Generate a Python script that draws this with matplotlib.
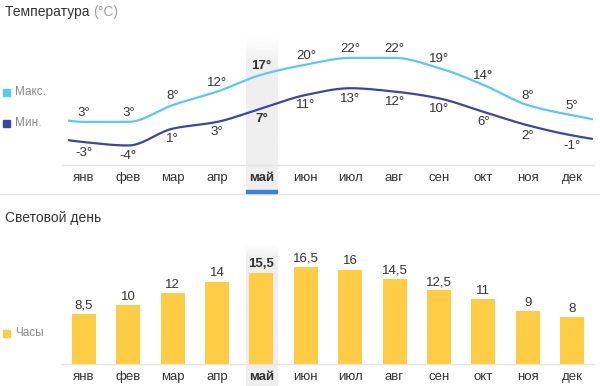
import numpy as np
import matplotlib
matplotlib.use("Agg")
import matplotlib.pyplot as plt
from matplotlib.patches import Rectangle

plt.rcParams['font.family'] = ['Liberation Sans', 'DejaVu Sans']

months = ["янв", "фев", "мар", "апр", "май", "июн", "июл", "авг", "сен", "окт", "ноя", "дек"]
t_max = [3, 3, 8, 12, 17, 20, 22, 22, 19, 14, 8, 5]
t_min = [-3, -4, 1, 3, 7, 11, 13, 12, 10, 6, 2, -1]
daylight = [8.5, 10, 12, 14, 15.5, 16.5, 16, 14.5, 12.5, 11, 9, 8]
highlight = 4  # май

C_MAX = "#5ac8f5"
C_MIN = "#3d44a6"
C_BAR = "#ffcd45"
C_TXT = "#333333"
C_LEG = "#8a8a8a"
C_LINE = "#e4e4e4"
C_BAND = "#efefef"
C_UL = "#3b80d9"

W, H = 600, 386
fig = plt.figure(figsize=(W / 100, H / 100), dpi=100)

def fr(left, top, right, bottom):
    return [left / W, 1 - bottom / H, (right - left) / W, (bottom - top) / H]

bg = fig.add_axes([0, 0, 1, 1])
bg.set_xlim(0, W)
bg.set_ylim(H, 0)
bg.axis("off")
bg.set_zorder(0)

ax1 = fig.add_axes(fr(61.8, 35, 594.2, 165))
ax2 = fig.add_axes(fr(61.8, 245, 594.2, 364))
for ax in (ax1, ax2):
    ax.set_zorder(1)
    ax.patch.set_visible(False)
    ax.set_xlim(-0.5, 11.5)
    for s in ("top", "left", "right"):
        ax.spines[s].set_visible(False)
    ax.spines["bottom"].set_color(C_LINE)
    ax.spines["bottom"].set_linewidth(1)
    ax.set_yticks([])
    ax.set_xticks(range(12))
    ax.set_xticklabels(months, fontsize=9.5, color=C_TXT)
    ax.tick_params(axis="x", length=0, pad=5)
    ax.get_xticklabels()[highlight].set_fontweight("bold")

ax1.set_ylim(-9.8, 28.8)
ax2.set_ylim(0, 20.2)

# monotone cubic (cyclic) curve
def pchip(x, y, xs):
    x = np.asarray(x, float); y = np.asarray(y, float)
    h = np.diff(x); delta = np.diff(y) / h
    n = len(x)
    d = np.zeros(n)
    d[0] = delta[0]; d[-1] = delta[-1]
    for k in range(1, n - 1):
        if delta[k - 1] * delta[k] <= 0:
            d[k] = 0
        else:
            w1 = 2 * h[k] + h[k - 1]; w2 = h[k] + 2 * h[k - 1]
            d[k] = (w1 + w2) / (w1 / delta[k - 1] + w2 / delta[k])
    idx = np.clip(np.searchsorted(x, xs) - 1, 0, n - 2)
    t = (xs - x[idx]) / h[idx]
    h00 = 2 * t**3 - 3 * t**2 + 1
    h10 = t**3 - 2 * t**2 + t
    h01 = -2 * t**3 + 3 * t**2
    h11 = t**3 - t**2
    return h00 * y[idx] + h10 * h[idx] * d[idx] + h01 * y[idx + 1] + h11 * h[idx] * d[idx + 1]

xi = np.arange(12)
xs = np.linspace(-0.36, 11.47, 400)
for vals, col in ((t_max, C_MAX), (t_min, C_MIN)):
    xx = np.concatenate([[-2, -1], xi, [12, 13]])
    yy = np.concatenate([vals[-2:], vals, vals[:2]])
    ax1.plot(xs, pchip(xx, yy, xs), color=col, lw=1.6, solid_capstyle="butt", zorder=3)

for i in range(12):
    fw = "bold" if i == highlight else "normal"
    ax1.annotate(f"{t_max[i]}°", (i, t_max[i]), xytext=(0, 6.5), textcoords="offset points",
                 ha="center", va="center", fontsize=9.5, color=C_TXT, fontweight=fw)
    ax1.annotate(f"{t_min[i]}°", (i, t_min[i]), xytext=(0, -7.5), textcoords="offset points",
                 ha="center", va="center", fontsize=9.5, color=C_TXT, fontweight=fw)

ax2.bar(xi, daylight, width=0.54, color=C_BAR, zorder=3)
for i in range(12):
    fw = "bold" if i == highlight else "normal"
    lab = f"{daylight[i]:g}".replace(".", ",")
    ax2.annotate(lab, (i, daylight[i]), xytext=(0, 6), textcoords="offset points",
                 ha="center", va="center", fontsize=9.5, color=C_TXT, fontweight=fw)

# highlight bands (background)
fig.canvas.draw()
def px(ax, xv):
    return ax.transData.transform((xv, 0))[0]
bx0 = px(ax1, highlight - 0.35)
bx1 = px(ax1, highlight + 0.35)

def band(y_top, y_bot, fade):
    grad = np.ones((200, 1, 4))
    base = np.array(matplotlib.colors.to_rgb(C_BAND))
    ys = np.linspace(y_top, y_bot, 200)
    a = np.clip((ys - y_top) / fade, 0, 1)
    grad[:, 0, :3] = base
    grad[:, 0, 3] = a
    bg.imshow(grad, extent=(bx0, bx1, y_bot, y_top), aspect="auto", zorder=1, interpolation="bilinear")

band(36, 190, 28)
band(244, 386, 14)
bg.set_xlim(0, W); bg.set_ylim(H, 0)
bg.add_patch(Rectangle((bx0, 189.5), bx1 - bx0, 3, color=C_UL, zorder=2))

# separator
bg.plot([0, W], [193.5, 193.5], color=C_LINE, lw=1, zorder=1)

# titles
t = bg.text(5, 12, "Температура ", fontsize=10, color=C_TXT, va="center", ha="left")
bg.annotate("(°C)", xycoords=t, xy=(1, 0.5), va="center", ha="left", fontsize=10, color="#a0a0a0")
bg.text(5, 218, "Световой день", fontsize=10, color=C_TXT, va="center", ha="left")

# legends
for y, col, lab in ((92, C_MAX, "Макс."), (123, C_MIN, "Мин."), (333, C_BAR, "Часы")):
    bg.add_patch(Rectangle((3, y - 3.5), 7, 7, color=col, zorder=2))
    bg.text(15, y, lab, fontsize=8.5, color=C_LEG, va="center", ha="left")

fig.savefig("out.png", dpi=100)
